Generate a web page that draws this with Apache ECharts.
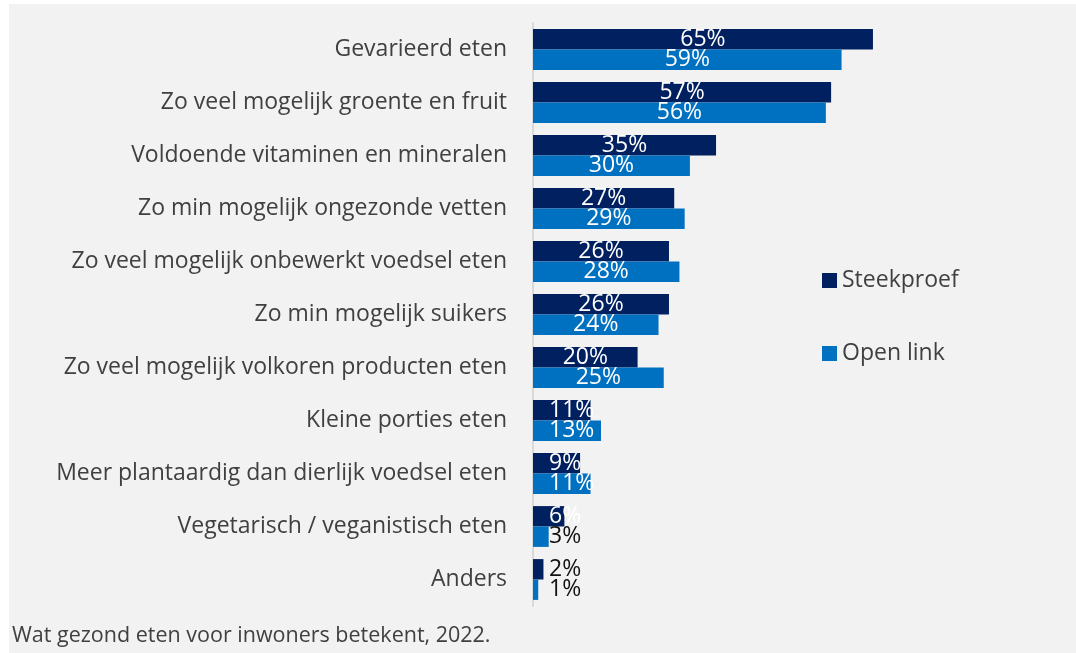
<!DOCTYPE html>
<html>
<head>
<meta charset="utf-8">
<script src="https://cdn.jsdelivr.net/npm/echarts@6/dist/echarts.min.js"></script>
<style>
  html, body { margin: 0; padding: 0; background: #fff; }
  #chart { width: 1076px; height: 653px; }
</style>
</head>
<body>
<div id="chart"></div>
<script>
  // categorieen, van boven naar beneden
  var categories = [
    'Gevarieerd eten',
    'Zo veel mogelijk groente en fruit',
    'Voldoende vitaminen en mineralen',
    'Zo min mogelijk ongezonde vetten',
    'Zo veel mogelijk onbewerkt voedsel eten',
    'Zo min mogelijk suikers',
    'Zo veel mogelijk volkoren producten eten',
    'Kleine porties eten',
    'Meer plantaardig dan dierlijk voedsel eten',
    'Vegetarisch / veganistisch eten',
    'Anders'
  ];
  var steekproef = [65, 57, 35, 27, 26, 26, 20, 11, 9, 6, 2];
  var openLink = [59, 56, 30, 29, 28, 24, 25, 13, 11, 3, 1];
  var caption = 'Wat gezond eten voor inwoners betekent, 2022.';

  var FONT = '"Open Sans", "Noto Sans", sans-serif';

  // label plek hangt af van de waarde: groot = midden, klein = links, heel klein = zwart
  function withLabels(values) {
    return values.map(function (v) {
      var lab;
      if (v >= 15) {
        lab = { position: 'inside', color: '#fff' };
      } else {
        lab = { position: 'insideLeft', distance: 16, color: v >= 5 ? '#fff' : '#111' };
      }
      return { value: v, label: lab };
    });
  }

  var myChart = echarts.init(document.getElementById('chart'));
  myChart.setOption({
    backgroundColor: '#ffffff',
    animation: false,
    textStyle: { fontFamily: FONT },
    graphic: [
      {
        type: 'rect', z: -10, silent: true,
        shape: { x: 9, y: 4, width: 1067, height: 649 },
        style: { fill: '#f2f2f2' }
      },
      {
        type: 'text', left: 12, top: 625,
        style: { text: caption, fill: '#404040', font: '21.5px ' + FONT }
      }
    ],
    legend: {
      orient: 'vertical',
      left: 817,
      top: 264,
      itemWidth: 15,
      itemHeight: 15,
      itemGap: 50,
      icon: 'rect',
      textStyle: { fontSize: 23, color: '#404040', fontFamily: FONT },
      data: ['Steekproef', 'Open link']
    },
    grid: { left: 533, right: 20, top: 23, height: 583 },
    xAxis: {
      type: 'value', min: 0, max: 100, show: false
    },
    yAxis: {
      type: 'category',
      inverse: true,
      data: categories,
      axisTick: { show: false },
      axisLine: { show: true, lineStyle: { color: '#d9d9d9', width: 2 } },
      axisLabel: { fontSize: 23, color: '#404040', margin: 26, fontFamily: FONT }
    },
    series: [
      {
        name: 'Steekproef',
        type: 'bar',
        data: withLabels(steekproef),
        itemStyle: { color: '#002060' },
        barGap: '0%',
        barCategoryGap: '23%',
        label: { show: true, fontSize: 23, formatter: '{c}%', fontFamily: FONT }
      },
      {
        name: 'Open link',
        type: 'bar',
        data: withLabels(openLink),
        itemStyle: { color: '#0070c0' },
        barGap: '0%',
        barCategoryGap: '23%',
        label: { show: true, fontSize: 23, formatter: '{c}%', fontFamily: FONT }
      }
    ]
  });
</script>
</body>
</html>
